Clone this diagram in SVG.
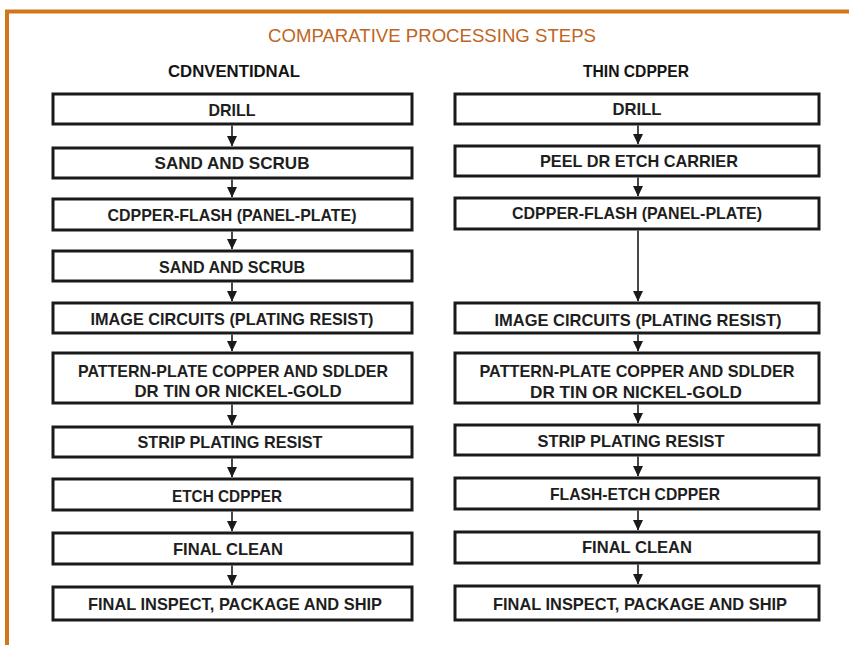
<svg xmlns="http://www.w3.org/2000/svg" width="849" height="645" viewBox="0 0 849 645">
<defs>
<style>
.box{fill:#fff;stroke:#1a1a1a;stroke-width:3}
.t{font-family:"Liberation Sans",Arial,sans-serif;font-weight:bold;font-size:17px;fill:#1e1e1e;text-anchor:middle}
.h{font-family:"Liberation Sans",Arial,sans-serif;font-weight:bold;font-size:17px;fill:#141414;text-anchor:middle}
.title{font-family:"Liberation Sans",Arial,sans-serif;font-size:18px;fill:#c0651f;text-anchor:middle}
.c line{stroke:#1a1a1a;stroke-width:1.6}
.c path{fill:#1a1a1a}
</style>
</defs>
<rect width="849" height="645" fill="#fff"/>
<path d="M7,645 V11.5 H849" fill="none" stroke="#d2761c" stroke-width="4"/>
<text class="title" x="432" y="42" textLength="328" lengthAdjust="spacingAndGlyphs">COMPARATIVE PROCESSING STEPS</text>
<text class="h" x="234" y="77" textLength="132" lengthAdjust="spacingAndGlyphs">CDNVENTIDNAL</text>
<text class="h" x="636" y="77" textLength="106" lengthAdjust="spacingAndGlyphs">THIN CDPPER</text>

<g id="l1"><rect class="box" x="53" y="94" width="359" height="30"/><text class="t" x="232" y="116" textLength="47" lengthAdjust="spacingAndGlyphs">DRILL</text></g>
<g id="l2"><rect class="box" x="53" y="148" width="359" height="30"/><text class="t" x="232" y="169" textLength="155" lengthAdjust="spacingAndGlyphs">SAND AND SCRUB</text></g>
<g id="l3"><rect class="box" x="53" y="199" width="359" height="31"/><text class="t" x="232" y="221" textLength="249" lengthAdjust="spacingAndGlyphs">CDPPER-FLASH (PANEL-PLATE)</text></g>
<g id="l4"><rect class="box" x="53" y="251" width="359" height="30"/><text class="t" x="232" y="273" textLength="146" lengthAdjust="spacingAndGlyphs">SAND AND SCRUB</text></g>
<g id="l5"><rect class="box" x="53" y="303" width="359" height="30"/><text class="t" x="232" y="325" textLength="283" lengthAdjust="spacingAndGlyphs">IMAGE CIRCUITS (PLATING RESIST)</text></g>
<g id="l6"><rect class="box" x="53" y="353" width="359" height="50"/><text class="t" x="233" y="377" textLength="310" lengthAdjust="spacingAndGlyphs">PATTERN-PLATE COPPER AND SDLDER</text><text class="t" x="238" y="397" textLength="207" lengthAdjust="spacingAndGlyphs">DR TIN OR NICKEL-GOLD</text></g>
<g id="l7"><rect class="box" x="53" y="427" width="359" height="30"/><text class="t" x="230" y="448" textLength="185" lengthAdjust="spacingAndGlyphs">STRIP PLATING RESIST</text></g>
<g id="l8"><rect class="box" x="53" y="479" width="359" height="31"/><text class="t" x="227" y="502" textLength="110" lengthAdjust="spacingAndGlyphs">ETCH CDPPER</text></g>
<g id="l9"><rect class="box" x="53" y="533" width="359" height="31"/><text class="t" x="228" y="555" textLength="110" lengthAdjust="spacingAndGlyphs">FINAL CLEAN</text></g>
<g id="l10"><rect class="box" x="53" y="587" width="359" height="33"/><text class="t" x="235" y="610" textLength="294" lengthAdjust="spacingAndGlyphs">FINAL INSPECT, PACKAGE AND SHIP</text></g>

<g id="r1"><rect class="box" x="455" y="94" width="364" height="30"/><text class="t" x="637" y="115" textLength="49" lengthAdjust="spacingAndGlyphs">DRILL</text></g>
<g id="r2"><rect class="box" x="455" y="146" width="364" height="30"/><text class="t" x="639" y="167" textLength="198" lengthAdjust="spacingAndGlyphs">PEEL DR ETCH CARRIER</text></g>
<g id="r3"><rect class="box" x="455" y="198" width="364" height="31"/><text class="t" x="637" y="219" textLength="250" lengthAdjust="spacingAndGlyphs">CDPPER-FLASH (PANEL-PLATE)</text></g>
<g id="r4"><rect class="box" x="455" y="303" width="364" height="30"/><text class="t" x="638" y="326" textLength="287" lengthAdjust="spacingAndGlyphs">IMAGE CIRCUITS (PLATING RESIST)</text></g>
<g id="r5"><rect class="box" x="455" y="353" width="364" height="50"/><text class="t" x="637" y="377" textLength="315" lengthAdjust="spacingAndGlyphs">PATTERN-PLATE COPPER AND SDLDER</text><text class="t" x="636" y="398" textLength="212" lengthAdjust="spacingAndGlyphs">DR TIN OR NICKEL-GOLD</text></g>
<g id="r6"><rect class="box" x="455" y="425" width="364" height="30"/><text class="t" x="631" y="447" textLength="187" lengthAdjust="spacingAndGlyphs">STRIP PLATING RESIST</text></g>
<g id="r7"><rect class="box" x="455" y="478" width="364" height="31"/><text class="t" x="635" y="500" textLength="170" lengthAdjust="spacingAndGlyphs">FLASH-ETCH CDPPER</text></g>
<g id="r8"><rect class="box" x="455" y="532" width="364" height="31"/><text class="t" x="637" y="553" textLength="110" lengthAdjust="spacingAndGlyphs">FINAL CLEAN</text></g>
<g id="r9"><rect class="box" x="455" y="586" width="364" height="34"/><text class="t" x="640" y="610" textLength="294" lengthAdjust="spacingAndGlyphs">FINAL INSPECT, PACKAGE AND SHIP</text></g>

<g id="connectors" class="c">
<line x1="232" y1="125.5" x2="232" y2="146"/><path d="M227,136 H237 L232,146.5 Z"/>
<line x1="232" y1="179.5" x2="232" y2="197"/><path d="M227,187 H237 L232,197.5 Z"/>
<line x1="232" y1="231.5" x2="232" y2="249"/><path d="M227,239 H237 L232,249.5 Z"/>
<line x1="232" y1="282.5" x2="232" y2="301"/><path d="M227,291 H237 L232,301.5 Z"/>
<line x1="232" y1="334.5" x2="232" y2="351"/><path d="M227,341 H237 L232,351.5 Z"/>
<line x1="232" y1="404.5" x2="232" y2="425"/><path d="M227,415 H237 L232,425.5 Z"/>
<line x1="232" y1="458.5" x2="232" y2="477"/><path d="M227,467 H237 L232,477.5 Z"/>
<line x1="232" y1="511.5" x2="232" y2="531"/><path d="M227,521 H237 L232,531.5 Z"/>
<line x1="232" y1="565.5" x2="232" y2="585"/><path d="M227,575 H237 L232,585.5 Z"/>

<line x1="638" y1="125.5" x2="638" y2="144"/><path d="M633,134 H643 L638,144.5 Z"/>
<line x1="638" y1="177.5" x2="638" y2="196"/><path d="M633,186 H643 L638,196.5 Z"/>
<line x1="638" y1="230.5" x2="638" y2="301"/><path d="M633,291 H643 L638,301.5 Z"/>
<line x1="638" y1="334.5" x2="638" y2="351"/><path d="M633,341 H643 L638,351.5 Z"/>
<line x1="638" y1="404.5" x2="638" y2="423"/><path d="M633,413 H643 L638,423.5 Z"/>
<line x1="638" y1="456.5" x2="638" y2="476"/><path d="M633,466 H643 L638,476.5 Z"/>
<line x1="638" y1="510.5" x2="638" y2="530"/><path d="M633,520 H643 L638,530.5 Z"/>
<line x1="638" y1="564.5" x2="638" y2="584"/><path d="M633,574 H643 L638,584.5 Z"/>
</g>
</svg>
